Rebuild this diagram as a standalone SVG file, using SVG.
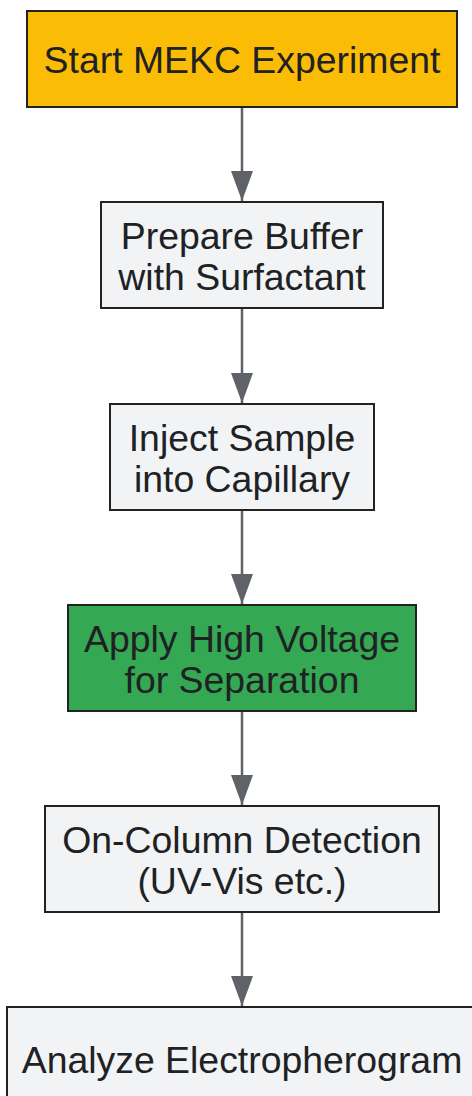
<svg xmlns="http://www.w3.org/2000/svg" width="472" height="1096" viewBox="0 0 472 1096">
  <style>
    .box { stroke: #222222; stroke-width: 2; }
    .proc { fill: #F1F3F4; }
    .start { fill: #FBBC05; }
    .run { fill: #34A853; }
    .lbl { font-family: "Liberation Sans", Arial, sans-serif; font-size: 37.4px; fill: #202124; text-anchor: middle; }
    .edge { stroke: #5F6368; stroke-width: 2.5; fill: none; marker-end: url(#arrow); }
  </style>
  <defs>
    <marker id="arrow" markerUnits="userSpaceOnUse" viewBox="0 0 30 22" refX="30" refY="11" markerWidth="30" markerHeight="22" orient="auto">
      <path d="M0,0 L30,11 L0,22 z" fill="#5F6368"/>
    </marker>
  </defs>
  <rect width="472" height="1096" fill="#FFFFFF"/>
  <g id="connectors">
    <line class="edge" x1="242" y1="107" x2="242" y2="201"/>
    <line class="edge" x1="242" y1="308" x2="242" y2="403"/>
    <line class="edge" x1="242" y1="510" x2="242" y2="604"/>
    <line class="edge" x1="242" y1="711" x2="242" y2="805"/>
    <line class="edge" x1="242" y1="912" x2="242" y2="1006"/>
  </g>
  <g id="start">
    <rect class="box start" x="27" y="11" width="430" height="96"/>
    <text class="lbl" x="242" y="73">Start MEKC Experiment</text>
  </g>
  <g id="prepare">
    <rect class="box proc" x="101" y="202" width="282" height="106"/>
    <text class="lbl" x="242" y="249">Prepare Buffer</text>
    <text class="lbl" x="242" y="290">with Surfactant</text>
  </g>
  <g id="inject">
    <rect class="box proc" x="110" y="404" width="264" height="106"/>
    <text class="lbl" x="242" y="451">Inject Sample</text>
    <text class="lbl" x="242" y="492">into Capillary</text>
  </g>
  <g id="voltage">
    <rect class="box run" x="68" y="605" width="348" height="106"/>
    <text class="lbl" x="242" y="652">Apply High Voltage</text>
    <text class="lbl" x="242" y="693">for Separation</text>
  </g>
  <g id="detect">
    <rect class="box proc" x="45" y="806" width="394" height="106"/>
    <text class="lbl" x="242" y="853">On-Column Detection</text>
    <text class="lbl" x="242" y="894">(UV-Vis etc.)</text>
  </g>
  <g id="analyze">
    <rect class="box proc" x="7" y="1007" width="470" height="106"/>
    <text class="lbl" x="242" y="1073">Analyze Electropherogram</text>
  </g>
</svg>
